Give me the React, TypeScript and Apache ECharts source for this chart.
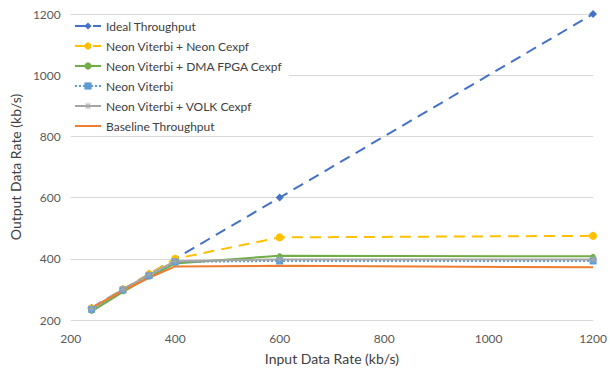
import React, { useEffect, useRef } from "react";
import * as echarts from "echarts";

const xValues = [240, 300, 350, 400, 600, 1200];
const seriesNames = [
  "Ideal Throughput",
  "Neon Viterbi + Neon Cexpf",
  "Neon Viterbi + DMA FPGA Cexpf",
  "Neon Viterbi",
  "Neon Viterbi + VOLK Cexpf",
  "Baseline Throughput",
];
const idealValues = [240, 300, 350, 400, 600, 1200];
const neonCexpfValues = [238, 300, 350, 400, 470, 475];
const dmaFpgaValues = [228, 292, 340, 385, 410, 408];
const neonViterbiValues = [235, 298, 345, 390, 393, 393];
const volkValues = [237, 300, 348, 392, 398, 398];
const baselineValues = [240, 296, 338, 375, 377, 372];
const axisTicks = { min: 200, max: 1200, interval: 200 };

const FONT = "Lato, 'Open Sans', sans-serif";
const asterisk =
  "path://M0 4.4h10v1.2H0z M4.4 0h1.2v10H4.4z M1.2 2L2 1.2L8.8 8L8 8.8z M8 1.2L8.8 2L2 8.8L1.2 8z";
const lineIcon = "path://M0 0H26V2H0Z";

const pair = (ys: number[]) => xValues.map((x, i) => [x, ys[i]]);

export default function App() {
  const ref = useRef<HTMLDivElement>(null);
  useEffect(() => {
    document.body.style.margin = "0";
    const chart = echarts.init(ref.current!, undefined, { renderer: "svg" });
    const mk = (
      name: string,
      ys: number[],
      color: string,
      symbol: string,
      symbolSize: number,
      lineType: any,
      width = 2
    ) => ({
      name,
      type: "line",
      data: pair(ys),
      symbol,
      symbolSize,
      showSymbol: symbol !== "none",
      itemStyle: { color },
      lineStyle: { color, width, type: lineType },
    });
    chart.setOption({
      animation: false,
      backgroundColor: "#ffffff",
      textStyle: { fontFamily: FONT },
      grid: { left: 68, right: 15, top: 14, bottom: 54 },
      legend: {
        orient: "vertical",
        left: 68,
        top: 16,
        padding: [4, 6, 4, 6],
        itemGap: 8,
        itemWidth: 26,
        itemHeight: 9,
        backgroundColor: "#ffffff",
        textStyle: { color: "#404040", fontSize: 12, fontFamily: FONT },
        data: seriesNames.map((n, i) =>
          i === 5 ? { name: n, icon: lineIcon } : { name: n }
        ),
      },
      xAxis: {
        type: "value",
        ...axisTicks,
        name: "Input Data Rate (kb/s)",
        nameLocation: "middle",
        nameGap: 31,
        nameTextStyle: { color: "#404040", fontSize: 14, fontFamily: FONT },
        axisLine: { show: false },
        axisTick: { show: false },
        splitLine: { show: false },
        axisLabel: {
          color: "#595959",
          fontSize: 12,
          margin: 12,
          fontFamily: FONT,
          formatter: (v: number) => String(v),
        },
      },
      yAxis: {
        type: "value",
        ...axisTicks,
        name: "Output Data Rate (kb/s)",
        nameLocation: "middle",
        nameGap: 48,
        nameTextStyle: { color: "#404040", fontSize: 14, fontFamily: FONT },
        axisLine: { show: false },
        axisTick: { show: false },
        splitLine: { show: true, lineStyle: { color: "#d9d9d9", width: 1 } },
        axisLabel: {
          color: "#595959",
          fontSize: 12,
          margin: 10,
          fontFamily: FONT,
          formatter: (v: number) => String(v),
        },
      },
      series: [
        mk(seriesNames[0], idealValues, "#4472C4", "diamond", 8, [11, 7]),
        mk(seriesNames[1], neonCexpfValues, "#FFC000", "circle", 8, [11, 7]),
        mk(seriesNames[2], dmaFpgaValues, "#70AD47", "circle", 5, "solid"),
        mk(seriesNames[3], neonViterbiValues, "#5B9BD5", "rect", 7, [2, 2]),
        mk(seriesNames[4], volkValues, "#A5A5A5", asterisk, 8, "solid"),
        mk(seriesNames[5], baselineValues, "#ED7D31", "none", 0, "solid"),
      ],
    });
    return () => chart.dispose();
  }, []);
  return <div ref={ref} style={{ width: 610, height: 374 }} />;
}
